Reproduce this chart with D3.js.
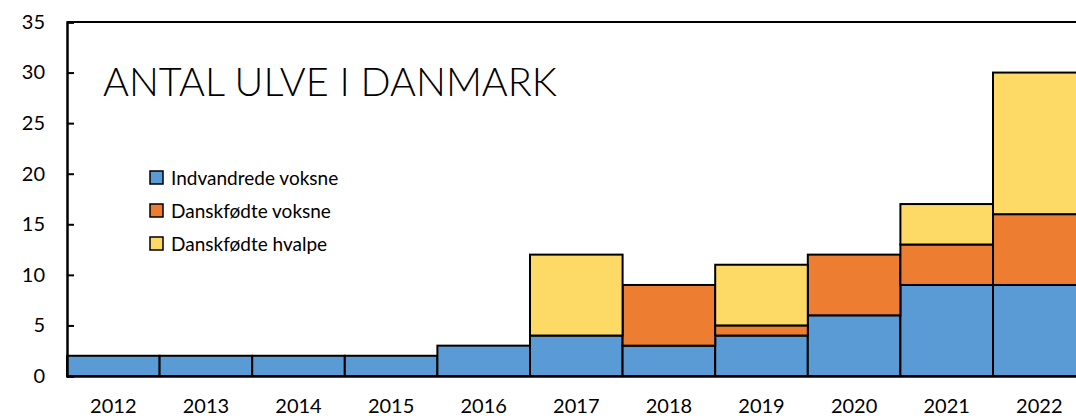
<!DOCTYPE html>
<html>
<head>
<meta charset="utf-8">
<script src="https://cdn.jsdelivr.net/npm/d3@7"></script>
<style>
  body { margin: 0; background: #fff; }
  svg { display: block; }
  text { font-family: Lato, "Open Sans", sans-serif; fill: #000; }
</style>
</head>
<body>
<svg width="1076" height="416"></svg>
<script>
  // data
  const years = ['2012', '2013', '2014', '2015', '2016', '2017', '2018', '2019', '2020', '2021', '2022'];
  const indvandrede = [2, 2, 2, 2, 3, 4, 3, 4, 6, 9, 9];
  const danskVoksne = [0, 0, 0, 0, 0, 0, 6, 1, 6, 4, 7];
  const danskHvalpe = [0, 0, 0, 0, 0, 8, 0, 6, 0, 4, 14];
  const seriesNames = ['Indvandrede voksne', 'Danskfødte voksne', 'Danskfødte hvalpe'];
  const colors = ['#5B9BD5', '#ED7D31', '#FDD966'];
  const yTicks = [0, 5, 10, 15, 20, 25, 30, 35];

  const svg = d3.select('svg');
  const margin = { left: 67, top: 22 };
  const plotBottom = 376;

  const rows = years.map((y, i) => ({
    year: y,
    [seriesNames[0]]: indvandrede[i],
    [seriesNames[1]]: danskVoksne[i],
    [seriesNames[2]]: danskHvalpe[i]
  }));

  const stack = d3.stack().keys(seriesNames)(rows);

  const x = d3.scaleBand()
    .domain(years)
    .range([margin.left, margin.left + 92.6 * years.length])
    .padding(0);

  const y = d3.scaleLinear()
    .domain([0, 35])
    .range([plotBottom, margin.top]);

  // bars
  const layer = svg.selectAll('g.layer').data(stack)
    .enter().append('g')
      .attr('class', 'layer')
      .attr('fill', (d, i) => colors[i]);

  layer.selectAll('rect')
    .data(d => d.filter(s => s[1] - s[0] > 0))
    .enter().append('rect')
      .attr('x', d => x(d.data.year))
      .attr('y', d => y(d[1]))
      .attr('width', x.bandwidth())
      .attr('height', d => y(d[0]) - y(d[1]))
      .attr('stroke', '#000')
      .attr('stroke-width', 2);

  // top border line
  svg.append('line')
    .attr('x1', margin.left).attr('x2', 1076)
    .attr('y1', y(35)).attr('y2', y(35))
    .attr('stroke', '#000').attr('stroke-width', 2);

  // y axis
  const yAxis = d3.axisLeft(y)
    .tickValues(yTicks)
    .tickSize(-7)
    .tickPadding(22);

  const yAxisG = svg.append('g')
    .attr('transform', `translate(${margin.left},0)`)
    .call(yAxis);
  yAxisG.select('.domain').attr('stroke-width', 2.5);
  yAxisG.selectAll('.tick line').attr('stroke-width', 2);
  yAxisG.selectAll('.tick text')
    .style('font-size', '20px')
    .attr('fill', '#000');

  // x axis
  const xAxis = d3.axisBottom(x).tickSize(0).tickPadding(23);
  const xAxisG = svg.append('g')
    .attr('transform', `translate(0,${plotBottom})`)
    .call(xAxis);
  xAxisG.select('.domain').attr('stroke-width', 2.5);
  xAxisG.selectAll('.tick text')
    .style('font-size', '20px')
    .attr('fill', '#000');

  // title
  svg.append('text')
    .attr('x', 103)
    .attr('y', 96)
    .attr('textLength', 454)
    .attr('lengthAdjust', 'spacingAndGlyphs')
    .style('font-size', '39px')
    .style('font-weight', 300)
    .text('ANTAL ULVE I DANMARK');

  // legend
  const legend = svg.selectAll('g.legend').data(seriesNames)
    .enter().append('g')
      .attr('class', 'legend')
      .attr('transform', (d, i) => `translate(150,${171 + i * 33})`);
  legend.append('rect')
    .attr('width', 13).attr('height', 13)
    .attr('fill', (d, i) => colors[i])
    .attr('stroke', '#000').attr('stroke-width', 1.5);
  legend.append('text')
    .attr('x', 21).attr('y', 14)
    .style('font-size', '19px')
    .text(d => d);
</script>
</body>
</html>
